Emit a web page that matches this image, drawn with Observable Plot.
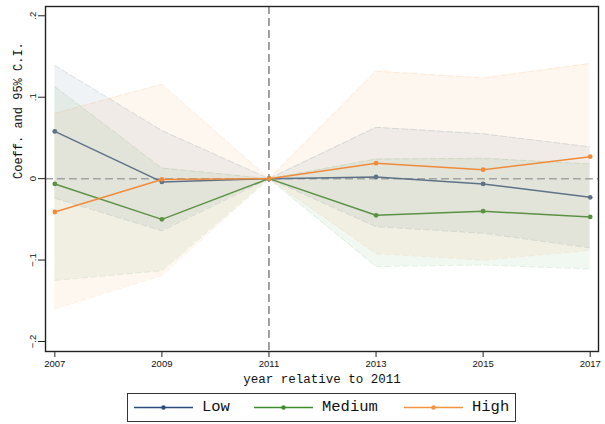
<!DOCTYPE html>
<html><head><meta charset="utf-8">
<script src="https://cdn.jsdelivr.net/npm/d3@7"></script>
<script src="https://cdn.jsdelivr.net/npm/@observablehq/plot@0.6"></script>
<style>
body{margin:0;background:#fff;}
#wrap{position:relative;width:605px;height:424px;overflow:hidden;}
#legend{position:absolute;left:127px;top:393px;width:387px;height:27px;border:1.3px solid #333;background:#fff;}
</style>
</head><body>
<div id="wrap"><div id="chart"></div><div id="legend"></div></div>
<script>
const years = [2007, 2009, 2011, 2013, 2015, 2017];
const seriesNames = ["Low", "Medium", "High"];
const lowCoef  = [0.058, -0.004, 0, 0.002, -0.0065, -0.023];
const lowUpper = [0.139, 0.059, 0, 0.063, 0.055, 0.039];
const lowLower = [-0.024, -0.064, 0, -0.059, -0.067, -0.085];
const medCoef  = [-0.0065, -0.050, 0, -0.045, -0.040, -0.047];
const medUpper = [0.113, 0.013, 0, 0.024, 0.025, 0.018];
const medLower = [-0.125, -0.113, 0, -0.108, -0.106, -0.111];
const highCoef  = [-0.041, -0.001, 0, 0.019, 0.011, 0.027];
const highUpper = [0.080, 0.116, 0, 0.132, 0.1235, 0.1415];
const highLower = [-0.160, -0.119, 0, -0.092, -0.100, -0.088];
const yTicks = [-0.2, -0.1, 0, 0.1, 0.2];
const xLabel = "year relative to 2011";
const yLabel = "Coeff. and 95% C.I.";

const lineColors = {Low: "#5d7289", Medium: "#5a9244", High: "#f08b3c"};
const legendColors = {Low: "#2b4b7c", Medium: "#3d8b2a", High: "#f5923e"};
const bandColors = {Low: "#1a476f", Medium: "#2e8b2e", High: "#f58a20"};

const coefs = {Low: lowCoef, Medium: medCoef, High: highCoef};
const uppers = {Low: lowUpper, Medium: medUpper, High: highUpper};
const lowers = {Low: lowLower, Medium: medLower, High: highLower};

const rows = [];
for (const s of seriesNames) {
  years.forEach((yr, i) => rows.push({series: s, year: yr, coef: coefs[s][i], lo: lowers[s][i], hi: uppers[s][i]}));
}

const mono = "'Liberation Mono', 'DejaVu Sans Mono', monospace";
const marks = [];
for (const s of seriesNames) {
  const d = rows.filter(r => r.series === s);
  marks.push(Plot.areaY(d, {x: "year", y1: "lo", y2: "hi", fill: bandColors[s], fillOpacity: 0.065}));
  marks.push(Plot.lineY(d, {x: "year", y: "hi", stroke: bandColors[s], strokeOpacity: 0.13, strokeDasharray: "6,3", strokeWidth: 1}));
  marks.push(Plot.lineY(d, {x: "year", y: "lo", stroke: bandColors[s], strokeOpacity: 0.13, strokeDasharray: "6,3", strokeWidth: 1}));
}
marks.push(Plot.ruleY([0], {stroke: "#a3a3a3", strokeWidth: 1.5, strokeDasharray: "8,4"}));
marks.push(Plot.ruleX([2011], {stroke: "#707070", strokeWidth: 1.3, strokeDasharray: "8,4"}));
for (const s of seriesNames) {
  const d = rows.filter(r => r.series === s);
  marks.push(Plot.lineY(d, {x: "year", y: "coef", stroke: lineColors[s], strokeWidth: 1.5}));
  marks.push(Plot.dot(d, {x: "year", y: "coef", fill: lineColors[s], r: 2.4}));
}
marks.push(Plot.frame({stroke: "#222", strokeWidth: 1.4}));
marks.push(Plot.axisY(yTicks, {tickSize: 7, tickPadding: 3, tickRotate: -90, fontSize: 9.5,
  fontFamily: "'Liberation Sans', Arial, sans-serif", stroke: "#222",
  tickFormat: d => d === 0 ? "0" : d3.format(".1f")(d).replace("0.", "."), label: null}));
marks.push(Plot.axisX(years, {tickSize: 6, tickPadding: 3, fontSize: 9.5,
  fontFamily: "'Liberation Sans', Arial, sans-serif", stroke: "#222", tickFormat: "d", label: null}));
marks.push(Plot.text([xLabel], {frameAnchor: "bottom", dy: 27, text: d => d, fontFamily: mono, fontSize: 12.5, lineAnchor: "middle", fill: "#111"}));
marks.push(Plot.text([yLabel], {frameAnchor: "left", dx: -27.5, rotate: -90, text: d => d, fontFamily: mono, fontSize: 12, lineAnchor: "middle", fill: "#111"}));

const chart = Plot.plot({
  width: 605, height: 390,
  marginLeft: 45, marginRight: 7, marginTop: 6, marginBottom: 39,
  x: {type: "linear", domain: [2006.826, 2017.155]},
  y: {domain: [-0.2123, 0.2114]},
  style: {background: "#fff", color: "#111"},
  marks
});
document.getElementById("chart").appendChild(chart);

// legend
const legendPos = {Low: [6, 74], Medium: [126, 194], High: [276, 344]};
const leg = d3.select("#legend");
for (const s of seriesNames) {
  const [lx, tx] = legendPos[s];
  const svg = leg.append("svg").attr("width", 62).attr("height", 27)
    .style("position", "absolute").style("left", lx + "px").style("top", "0px");
  svg.append("line").attr("x1", 0).attr("x2", 59).attr("y1", 13.5).attr("y2", 13.5)
    .attr("stroke", legendColors[s]).attr("stroke-width", 1.5);
  svg.append("circle").attr("cx", 29.5).attr("cy", 13.5).attr("r", 2.2).attr("fill", legendColors[s]);
  leg.append("div").text(s).style("position", "absolute").style("left", tx + "px").style("top", "3px")
    .style("font-family", mono).style("font-size", "15.5px").style("line-height", "20px").style("color", "#111");
}
</script>
</body></html>
